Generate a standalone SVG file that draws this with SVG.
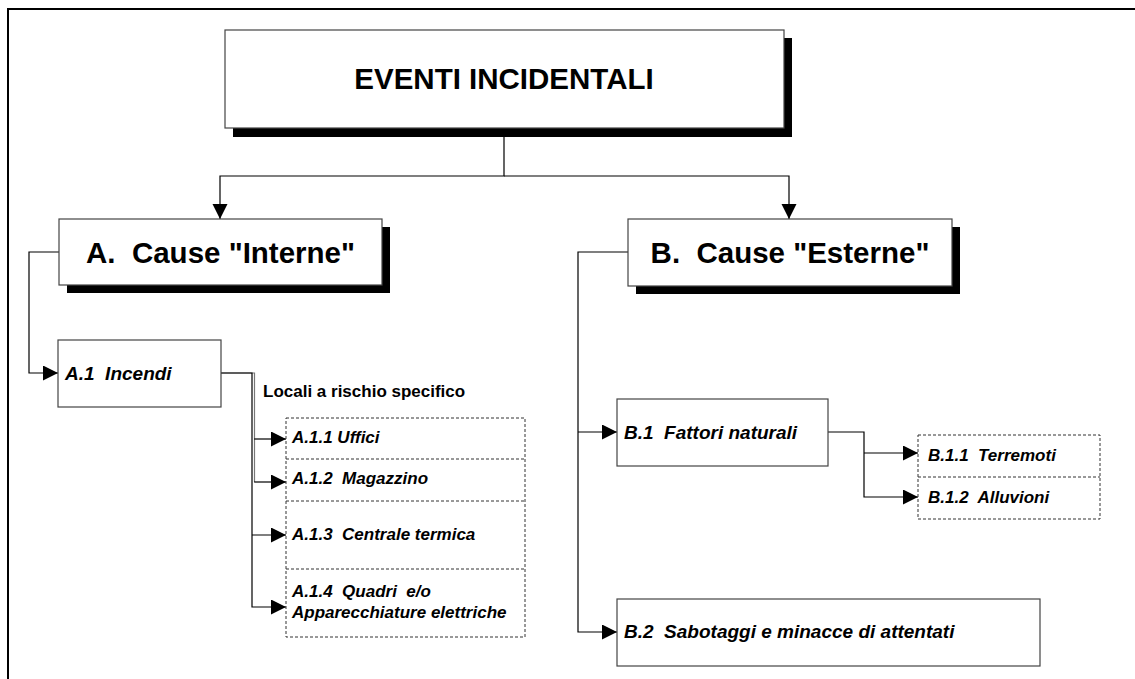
<svg xmlns="http://www.w3.org/2000/svg" width="1135" height="679" viewBox="0 0 1135 679">
<style>
text { font-family: "Liberation Sans", Arial, sans-serif; font-weight: bold; fill: #000; white-space: pre; }
.it { font-style: italic; }
.box { fill: #fff; stroke: #444; stroke-width: 1.2; }
.shadow { fill: #000; }
.dot { fill: none; stroke: #333; stroke-width: 1; stroke-dasharray: 3 2; }
.conn { fill: none; stroke: #000; stroke-width: 1.2; }
.conn2 { fill: none; stroke: #777; stroke-width: 1.2; }
</style>
<defs>
<marker id="arr" markerUnits="userSpaceOnUse" markerWidth="16" markerHeight="16" refX="15" refY="7.5" orient="auto">
<path d="M0,0 L15,7.5 L0,15 z" fill="#000"/>
</marker>
</defs>
<rect x="0" y="0" width="1135" height="679" fill="#fff"/>
<path d="M8,679 V9 H1135" fill="none" stroke="#000" stroke-width="2"/>

<g id="connectors">
<path class="conn" d="M504,128 V176 H220 V219" marker-end="url(#arr)"/>
<path class="conn" d="M504,176 H789 V219" marker-end="url(#arr)"/>
<path class="conn" d="M59,252 H29 V373 H58" marker-end="url(#arr)"/>
<path class="conn2" d="M221,373 H254.5 V482"/>
<path class="conn" d="M221,373 H252 V607 H286" marker-end="url(#arr)"/>
<path class="conn" d="M254,439 H286" marker-end="url(#arr)"/>
<path class="conn" d="M254,482 H286" marker-end="url(#arr)"/>
<path class="conn" d="M252,535 H286" marker-end="url(#arr)"/>
<path class="conn" d="M628,252 H578 V632 H617" marker-end="url(#arr)"/>
<path class="conn" d="M578,432 H617" marker-end="url(#arr)"/>
<path class="conn" d="M828,432 H864 V497 H918" marker-end="url(#arr)"/>
<path class="conn" d="M864,453 H918" marker-end="url(#arr)"/>
</g>

<g id="root">
<rect class="shadow" x="233" y="38" width="559" height="99"/>
<rect class="box" x="225" y="30" width="559" height="98"/>
<text x="504" y="89" font-size="29.5" text-anchor="middle">EVENTI INCIDENTALI</text>
</g>

<g id="A">
<rect class="shadow" x="67" y="227" width="323" height="66"/>
<rect class="box" x="59" y="219" width="323" height="66"/>
<text x="220.5" y="263" font-size="29.5" text-anchor="middle">A.  Cause "Interne"</text>
</g>

<g id="B">
<rect class="shadow" x="636" y="227" width="324" height="67"/>
<rect class="box" x="628" y="219" width="324" height="67"/>
<text x="790" y="263" font-size="29.5" text-anchor="middle">B.  Cause "Esterne"</text>
</g>

<g id="A1">
<rect class="box" x="58" y="340" width="163" height="67"/>
<text class="it" x="65" y="380" font-size="19">A.1  Incendi</text>
</g>

<g id="A1-label">
<text x="263" y="397" font-size="17">Locali a rischio specifico</text>
</g>

<g id="A1x">
<rect class="dot" x="286" y="418" width="239" height="219"/>
<line class="dot" x1="286" y1="459" x2="525" y2="459"/>
<line class="dot" x1="286" y1="501" x2="525" y2="501"/>
<line class="dot" x1="286" y1="569" x2="525" y2="569"/>
<text class="it" x="292" y="443" font-size="17">A.1.1 Uffici</text>
<text class="it" x="292" y="484" font-size="17">A.1.2  Magazzino</text>
<text class="it" x="292" y="540" font-size="17">A.1.3  Centrale termica</text>
<text class="it" x="292" y="597" font-size="17">A.1.4  Quadri  e/o</text>
<text class="it" x="292" y="618" font-size="17">Apparecchiature elettriche</text>
</g>

<g id="B1">
<rect class="box" x="617" y="399" width="211" height="67"/>
<text class="it" x="624" y="439" font-size="19">B.1  Fattori naturali</text>
</g>

<g id="B1x">
<rect class="dot" x="918" y="435" width="182" height="84"/>
<line class="dot" x1="918" y1="477" x2="1100" y2="477"/>
<text class="it" x="928" y="461" font-size="17">B.1.1  Terremoti</text>
<text class="it" x="928" y="503" font-size="17">B.1.2  Alluvioni</text>
</g>

<g id="B2">
<rect class="box" x="617" y="599" width="423" height="67"/>
<text class="it" x="624" y="638" font-size="19">B.2  Sabotaggi e minacce di attentati</text>
</g>
</svg>
